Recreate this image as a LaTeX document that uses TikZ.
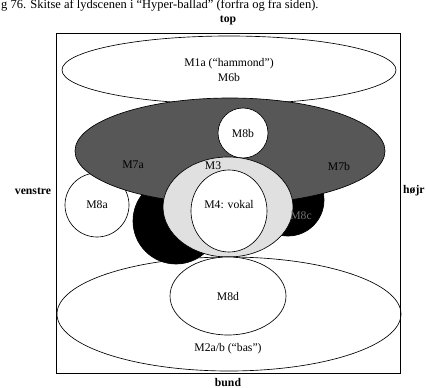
\documentclass[tikz,border=0pt]{standalone}
\usepackage{fontspec}
\setmainfont{Liberation Serif}
\usetikzlibrary{shapes.geometric}

\begin{document}
\begin{tikzpicture}[x=1pt, y=-1pt]
        \tikzstyle{every node}=[font=\fontsize{11.7}{15}\selectfont]
        \tikzstyle{zone}=[draw, ellipse, inner sep=0pt, line width=0.65pt, align=center]
        \tikzstyle{side}=[font=\fontsize{11.7}{15}\selectfont\bfseries, anchor=base]

        \useasboundingbox (0,0) rectangle (426,388);
        \node (caption) [anchor=base west, font=\fontsize{12.5}{14}\selectfont, inner sep=0pt] at (1,9)
            {g 76. Skitse af lydscenen i “Hyper-ballad” (forfra og fra siden).};

        \draw[line width=0.65pt] (56,33) rectangle (400,373);

        \node (m1)  [zone, fill=white, minimum width=334pt, minimum height=68pt] at (229,70) {M1a (“hammond”)\\M6b};
        \node (m8a) [zone, circle, fill=white, minimum size=64pt] at (97,205) {M8a};
        \node (m5)  [zone, circle, fill=black, minimum size=86pt] at (176,221) {};
        \node (m8c) [zone, circle, fill=black, minimum size=72pt] at (288,200) {};
        \node (m7)  [zone, fill=black!66, minimum width=310pt, minimum height=106pt] at (230,151) {};
        \node (m8b) [zone, circle, fill=white, minimum size=50pt] at (243,133) {M8b};
        \node (m3)  [zone, fill=black!12, minimum width=130pt, minimum height=100pt] at (228,207) {};
        \node (m4)  [zone, fill=white, minimum width=76pt, minimum height=82pt] at (229,211) {};
        \node (m2)  [zone, minimum width=344pt, minimum height=114pt] at (229,314) {};
        \node (m8d) [zone, fill=white, minimum width=116pt, minimum height=78pt] at (228,296) {M8d};

        % labels inside the zones
        \node (m7atxt) at (133,165) {M7a};
        \node (m7btxt) at (339,166) {M7b};
        \node (m3txt)  at (213,166) {M3};
        \node (m4txt)  at (229,205) {M4: vokal};
        \node (m8ctxt) [text=black!55] at (301,216) {M8c};
        \node (m2txt)  at (228,349) {M2a/b (“bas”)};

        % sides
        \node (toplbl)  [side] at (228,22) {top};
        \node (leftlbl) [side] at (33,194) {venstre};
        \node (rightlbl) [side, anchor=base west, inner sep=0pt] at (403,193) {højr};
        \node (botlbl)  [side] at (228,386) {bund};
\end{tikzpicture}
\end{document}
